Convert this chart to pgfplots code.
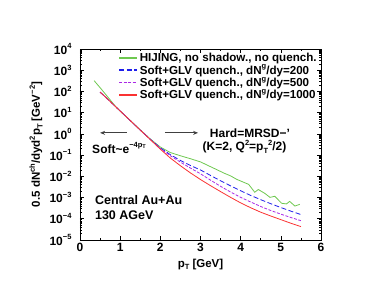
\documentclass[border=0pt]{standalone}
\usepackage{fontspec}
\setmainfont{Liberation Sans}
\usepackage{pgfplots}
\pgfplotsset{compat=1.18}
\usetikzlibrary{arrows.meta}
\definecolor{hijGreen}{RGB}{110,200,80}
\definecolor{glvBlue}{RGB}{30,30,235}
\definecolor{glvViolet}{RGB}{170,40,230}
\definecolor{glvRed}{RGB}{250,50,50}
\newcommand{\sups}[1]{\raisebox{0.85ex}{\fontsize{7.5}{8}\selectfont #1}}
\newcommand{\subs}[1]{\raisebox{-0.45ex}{\fontsize{7.5}{8}\selectfont #1}}

% green: HIJING, no shadowing, no quenching
\pgfplotstableread{
pt y
0.35 324
0.5 151
0.7 52.5
0.9 18.2
1.1 7.9
1.5 1.55
1.75 0.575
2.0 0.24
2.25 0.132
2.5 0.0933
2.75 0.0676
3.0 0.0479
3.2 0.0316
3.4 0.0209
3.6 0.0138
3.75 0.0105
3.9 0.00724
4.0 0.00603
4.2 0.00417
4.35 0.00178
4.44 0.0024
4.6 0.00158
4.73 0.00102
4.85 0.00115
5.02 0.000537
5.14 0.000501
5.22 0.000661
5.35 0.000398
5.47 0.000479
}\hijing
% blue dashed: dN/dy=200
\pgfplotstableread{
pt y
0.5 93
0.6 63
0.8 27.5
1.0 12.0
1.25 4.27
1.5 1.51
1.75 0.56
2.0 0.219
2.25 0.105
2.5 0.0562
2.75 0.0324
3.0 0.0200
3.25 0.0110
3.5 0.00617
3.75 0.00355
4.0 0.00209
4.25 0.00126
4.5 0.000794
4.75 0.000513
5.0 0.000339
5.25 0.000229
5.5 0.000158
}\glvA
% violet: dN/dy=500
\pgfplotstableread{
pt y
0.5 93
0.6 63
0.8 27.5
1.0 12.0
1.25 4.27
1.5 1.51
1.75 0.55
2.0 0.204
2.25 0.0933
2.5 0.0468
2.75 0.0245
3.0 0.0132
3.25 0.00661
3.5 0.00339
3.75 0.00182
4.0 0.00102
4.25 0.000617
4.5 0.00038
4.75 0.000245
5.0 0.000166
5.25 0.000115
5.5 0.0000813
}\glvB
% red: dN/dy=1000
\pgfplotstableread{
pt y
0.5 93
0.6 63
0.8 27.5
1.0 12.0
1.25 4.27
1.5 1.51
1.75 0.537
2.0 0.191
2.25 0.0724
2.5 0.0316
2.75 0.0145
3.0 0.00708
3.25 0.00363
3.5 0.00191
3.75 0.00102
4.0 0.000562
4.25 0.000331
4.5 0.000204
4.75 0.000135
5.0 0.0000912
5.25 0.0000617
5.5 0.0000427
}\glvC

\begin{document}
\begin{tikzpicture}
\path[use as bounding box] (-80pt,-58pt) rectangle (305pt,240pt);
\begin{axis}[
 at={(0pt,0pt)},anchor=south west,
 scale only axis,width=241pt,height=191pt,
 ymode=log,xmin=0,xmax=6,ymin=1e-5,ymax=1e4,
 xtick={0,1,...,6},minor x tick num=1,
 ytick={1e-5,1e-4,1e-3,1e-2,1e-1,1,1e1,1e2,1e3,1e4},
 yticklabels={10\sups{−5},10\sups{−4},10\sups{−3},10\sups{−2},10\sups{−1},10\sups{0},10\sups{1},10\sups{2},10\sups{3},10\sups{4}},
 /pgf/number format/assume math mode=true,
 tick label style={font=\bfseries\fontsize{12}{13}\selectfont},
 yticklabel style={xshift=-5pt},
 tick align=inside,major tick length=4pt,minor tick length=2pt,
 axis line style={line width=0.8pt},every tick/.style={line width=0.6pt},
 xlabel={p\subs{T} [GeV]},
 ylabel={0.5 dN\sups{ch}/dyd\sups{2}p\subs{T} [GeV\sups{−2}]},
 label style={font=\bfseries\fontsize{11.5}{13}\selectfont},
 legend cell align=left,
 legend style={draw=none,fill=none,at={(rel axis cs:0.995,0.995)},anchor=north east,
  font=\bfseries\fontsize{11.6}{11.6}\selectfont,row sep=-2.3pt,inner sep=1pt},
 legend image code/.code={\draw[#1] (0pt,0pt) -- (18pt,0pt);},
]
\addplot[forget plot,color=hijGreen,line width=0.8pt] table[x=pt,y=y] {\hijing};
\addplot[forget plot,color=glvBlue,line width=0.8pt,dash pattern=on 5pt off 2.5pt] table[x=pt,y=y] {\glvA};
\addplot[forget plot,color=glvViolet,line width=0.8pt,dash pattern=on 3pt off 1.5pt] table[x=pt,y=y] {\glvB};
\addplot[forget plot,color=glvRed,line width=0.8pt] table[x=pt,y=y] {\glvC};

\addlegendimage{draw=hijGreen,line width=1.3pt}
\addlegendentry{HIJING, no shadow., no quench.}
\addlegendimage{draw=glvBlue,line width=1.3pt,dash pattern=on 5pt off 2.5pt}
\addlegendentry{Soft+GLV quench., dN\sups{g}/dy=200}
\addlegendimage{draw=glvViolet,line width=1.3pt,dash pattern=on 3pt off 1.5pt}
\addlegendentry{Soft+GLV quench., dN\sups{g}/dy=500}
\addlegendimage{draw=glvRed,line width=1.3pt}
\addlegendentry{Soft+GLV quench., dN\sups{g}/dy=1000}

\draw[-{Stealth[length=5pt,width=4pt]},line width=0.8pt,black!75] (axis cs:1.17,1.12) -- (axis cs:0.5,1.12);
\draw[-{Stealth[length=5pt,width=4pt]},line width=0.8pt,black!75] (axis cs:2.11,1.12) -- (axis cs:2.94,1.12);
\node[anchor=west,inner sep=0pt,font=\bfseries\fontsize{12}{14}\selectfont] at (axis cs:0.3,0.22) {Soft\textasciitilde e\raisebox{0.85ex}{\fontsize{7.5}{8}\selectfont −4p\raisebox{-0.3ex}{\fontsize{5.5}{6}\selectfont T}}};
\node[anchor=west,inner sep=0pt,font=\bfseries\fontsize{12}{14}\selectfont] at (axis cs:3.23,1.12) {Hard=MRSD−'};
\node[anchor=west,inner sep=0pt,font=\bfseries\fontsize{12}{14}\selectfont] at (axis cs:3.05,0.245) {(K=2, Q\sups{2}=p\subs{T}\sups{2}/2)};
\node[anchor=west,inner sep=0pt,font=\bfseries\fontsize{12.5}{14}\selectfont] at (axis cs:0.37,7.7e-4) {Central Au+Au};
\node[anchor=west,inner sep=0pt,font=\bfseries\fontsize{12.5}{14}\selectfont] at (axis cs:0.37,1.5e-4) {130 AGeV};
\end{axis}
\end{tikzpicture}
\end{document}
